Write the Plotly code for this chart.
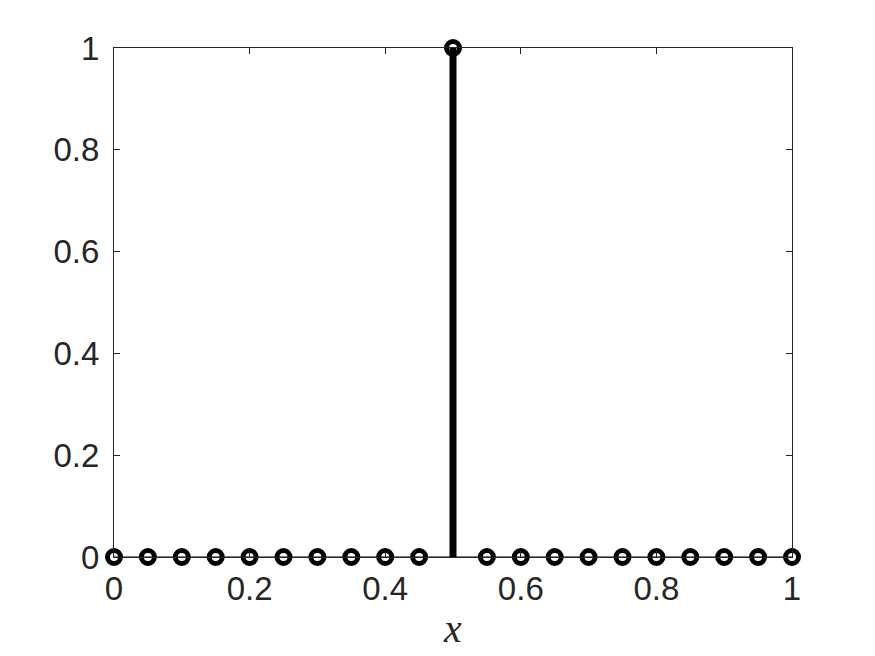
import plotly.graph_objects as go

x_vals = [round(i * 0.05, 2) for i in range(21)]
y_vals = [0, 0, 0, 0, 0, 0, 0, 0, 0, 0, 1, 0, 0, 0, 0, 0, 0, 0, 0, 0, 0]
tick_vals = [0, 0.2, 0.4, 0.6, 0.8, 1]
tick_text = ["0", "0.2", "0.4", "0.6", "0.8", "1"]

# stems (only non-zero ones have visible length)
sx, sy = [], []
for xv, yv in zip(x_vals, y_vals):
    if yv != 0:
        sx += [xv, xv, None]
        sy += [0, yv, None]

fig = go.Figure()
fig.add_trace(go.Scatter(x=[0, 1], y=[0, 0], mode="lines",
                         line=dict(color="black", width=1.2), hoverinfo="skip"))
fig.add_trace(go.Scatter(x=sx, y=sy, mode="lines",
                         line=dict(color="black", width=7), cliponaxis=False))
fig.add_trace(go.Scatter(x=x_vals, y=y_vals, mode="markers", cliponaxis=False,
                         marker=dict(symbol="circle-open", size=13, color="black",
                                     line=dict(width=5, color="black"))))

axis_style = dict(range=[0, 1], tickvals=tick_vals, ticktext=tick_text,
                  showline=True, linecolor="#262626", linewidth=1.2, mirror="ticks",
                  ticks="inside", ticklen=6, tickwidth=1.2, tickcolor="#262626",
                  showgrid=False, zeroline=False, automargin=False,
                  tickfont=dict(family="Liberation Sans, Arial", size=33, color="#262626"))

fig.update_xaxes(**axis_style, ticklabelstandoff=2,
                 title=dict(text="<i>x</i>", standoff=8,
                            font=dict(family="Liberation Serif, Times New Roman", size=40, color="#262626")))
fig.update_yaxes(**axis_style, ticklabelstandoff=7)

# page body adds ~8px offset, margins compensate
fig.update_layout(width=875, height=656, showlegend=False,
                  plot_bgcolor="white", paper_bgcolor="white",
                  margin=dict(l=106, r=91, t=40, b=107))

fig.write_html("out.html")
